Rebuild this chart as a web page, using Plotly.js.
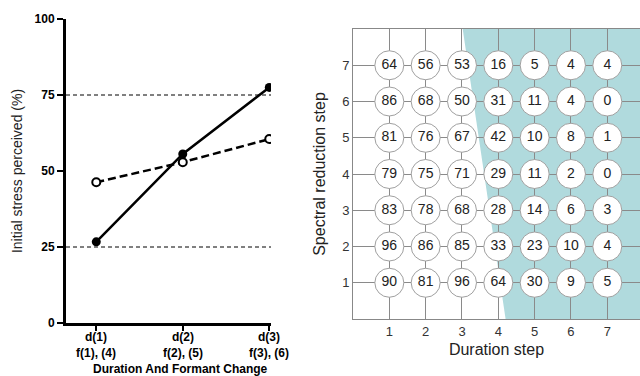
<!DOCTYPE html>
<html>
<head>
<meta charset="utf-8">
<script src="https://cdn.plot.ly/plotly-3.0.1.min.js"></script>
<style>html,body{margin:0;padding:0;background:#fff;}#chart{width:640px;height:376px;}</style>
</head>
<body>
<div id="chart"></div>
<script>
// ---- Left panel data ----
const conditionPos = [1, 2, 3];
const durationLabels = ["d(1)", "d(2)", "d(3)"];
const formantLabels = ["f(1), (4)", "f(2), (5)", "f(3), (6)"];
const durationValues = [26.7, 55.6, 77.5];
const vowelQualityValues = [46.3, 52.9, 60.5];
const stressTicks = [0, 25, 50, 75, 100];

// ---- Right panel data ----
const durationSteps = [1, 2, 3, 4, 5, 6, 7];
const spectralSteps = [1, 2, 3, 4, 5, 6, 7];
// rows by spectral step 1..7, columns by duration step 1..7
const gridValues = [
  [90, 81, 96, 64, 30, 9, 5],   // step 1
  [96, 86, 85, 33, 23, 10, 4],  // step 2
  [83, 78, 68, 28, 14, 6, 3],   // step 3
  [79, 75, 71, 29, 11, 2, 0],   // step 4
  [81, 76, 67, 42, 10, 8, 1],   // step 5
  [86, 68, 50, 31, 11, 4, 0],   // step 6
  [64, 56, 53, 16, 5, 4, 4]     // step 7
];
// boundary of shaded region (duration step at top and bottom of plot)
const boundaryTop = 3.02, boundaryBottom = 4.2;

const gx = [], gy = [], gt = [];
spectralSteps.forEach((s, i) => {
  durationSteps.forEach((d, j) => {
    gx.push(d); gy.push(s); gt.push(String(gridValues[i][j]));
  });
});

const traces = [
  {
    x: conditionPos, y: durationValues, type: 'scatter', mode: 'lines+markers',
    line: {color: '#000', width: 2.5}, marker: {color: '#000', size: 9},
    xaxis: 'x', yaxis: 'y', showlegend: false, hoverinfo: 'skip'
  },
  {
    x: conditionPos, y: vowelQualityValues, type: 'scatter', mode: 'lines+markers',
    line: {color: '#000', width: 2.5, dash: '8px,4px'},
    marker: {color: '#fff', size: 8, line: {color: '#000', width: 2}},
    xaxis: 'x', yaxis: 'y', showlegend: false, hoverinfo: 'skip'
  },
  {
    x: gx, y: gy, text: gt, type: 'scatter', mode: 'markers+text',
    textposition: 'middle center',
    textfont: {family: 'Liberation Sans, Arial, sans-serif', size: 14, color: '#222'},
    marker: {color: '#fff', size: 29, line: {color: '#a0a0a0', width: 1}},
    xaxis: 'x2', yaxis: 'y2', showlegend: false, hoverinfo: 'skip', cliponaxis: false
  }
];

const tickFont = {size: 12, weight: 'bold', color: '#000'};
const tickAnnotations = [];
conditionPos.forEach((p, i) => {
  tickAnnotations.push({xref: 'x', yref: 'paper', x: p, y: (376 - 336.5) / 376, text: durationLabels[i],
    showarrow: false, xanchor: 'center', yanchor: 'middle', borderpad: 0, font: tickFont});
  tickAnnotations.push({xref: 'x', yref: 'paper', x: p, y: (376 - 352.5) / 376, text: formantLabels[i],
    showarrow: false, xanchor: 'center', yanchor: 'middle', borderpad: 0, font: tickFont});
});

const layout = {
  width: 640, height: 376,
  margin: {l: 0, r: 0, t: 0, b: 0},
  paper_bgcolor: '#fff', plot_bgcolor: 'rgba(0,0,0,0)',
  showlegend: false,
  font: {family: 'Liberation Sans, Arial, sans-serif', color: '#000'},
  xaxis: {
    domain: [66/640, 271/640], range: [0.65, 3.02],
    tickvals: conditionPos, showticklabels: false,
    ticks: 'outside', ticklen: 5, tickwidth: 2, tickcolor: '#000',
    showline: true, linewidth: 3, linecolor: '#000', showgrid: false, zeroline: false,
    automargin: false, anchor: 'y', fixedrange: true
  },
  yaxis: {
    domain: [53/376, 357/376], range: [0, 100],
    tickvals: stressTicks,
    ticks: 'outside', ticklen: 6, tickwidth: 2, tickcolor: '#000',
    showline: true, linewidth: 3, linecolor: '#000', showgrid: false, zeroline: false,
    tickfont: {size: 12, weight: 'bold', color: '#000'},
    title: {text: 'Initial stress perceived (%)', font: {size: 14, color: '#222'}, standoff: 9},
    automargin: false, anchor: 'x', fixedrange: true
  },
  xaxis2: {
    domain: [353/640, 1], range: [0, 7.9],
    tickvals: durationSteps, ticks: '',
    showline: true, mirror: true, linewidth: 1, linecolor: '#888',
    showgrid: true, gridcolor: '#8a8a8a', gridwidth: 1, zeroline: false,
    tickfont: {size: 13, color: '#333'},
    title: {text: 'Duration step', font: {size: 16, color: '#222'}, standoff: 6},
    automargin: false, anchor: 'y2', fixedrange: true
  },
  yaxis2: {
    domain: [57/376, 347/376], range: [0, 8],
    tickvals: spectralSteps, ticks: '',
    showline: true, linewidth: 1, linecolor: '#888',
    showgrid: true, gridcolor: '#8a8a8a', gridwidth: 1, zeroline: false,
    tickfont: {size: 13, color: '#333'},
    title: {text: 'Spectral reduction step', font: {size: 16, color: '#222'}, standoff: 12},
    automargin: false, anchor: 'x2', fixedrange: true
  },
  shapes: [
    {type: 'line', xref: 'x', yref: 'y', x0: 0.65, x1: 3.06, y0: 75, y1: 75,
     line: {color: '#000', width: 1, dash: '4px,3px'}},
    {type: 'line', xref: 'x', yref: 'y', x0: 0.65, x1: 3.06, y0: 25, y1: 25,
     line: {color: '#000', width: 1, dash: '4px,3px'}},
    {type: 'path', xref: 'x2', yref: 'y2', layer: 'below',
     path: `M ${boundaryTop},8 L ${boundaryBottom},0 L 7.9,0 L 7.9,8 Z`,
     fillcolor: '#b0dadd', line: {width: 0}}
  ],
  annotations: [
    {xref: 'x', yref: 'y', x: 3.06, y: 83.2, text: 'Duration', showarrow: false,
     xanchor: 'right', yanchor: 'middle', font: {size: 13, color: '#000'}},
    {xref: 'x', yref: 'y', x: 3.06, y: 48.7, text: 'Vowel quality', showarrow: false,
     xanchor: 'right', yanchor: 'middle', font: {size: 13, color: '#000'}},
    {xref: 'paper', yref: 'paper', x: 180/640, y: (376 - 368.5) / 376, text: 'Duration And Formant Change',
     showarrow: false, xanchor: 'center', yanchor: 'middle', borderpad: 0,
     font: {size: 12, weight: 'bold', color: '#000'}}
  ].concat(tickAnnotations)
};

Plotly.newPlot('chart', traces, layout, {staticPlot: true, displayModeBar: false});
</script>
</body>
</html>
